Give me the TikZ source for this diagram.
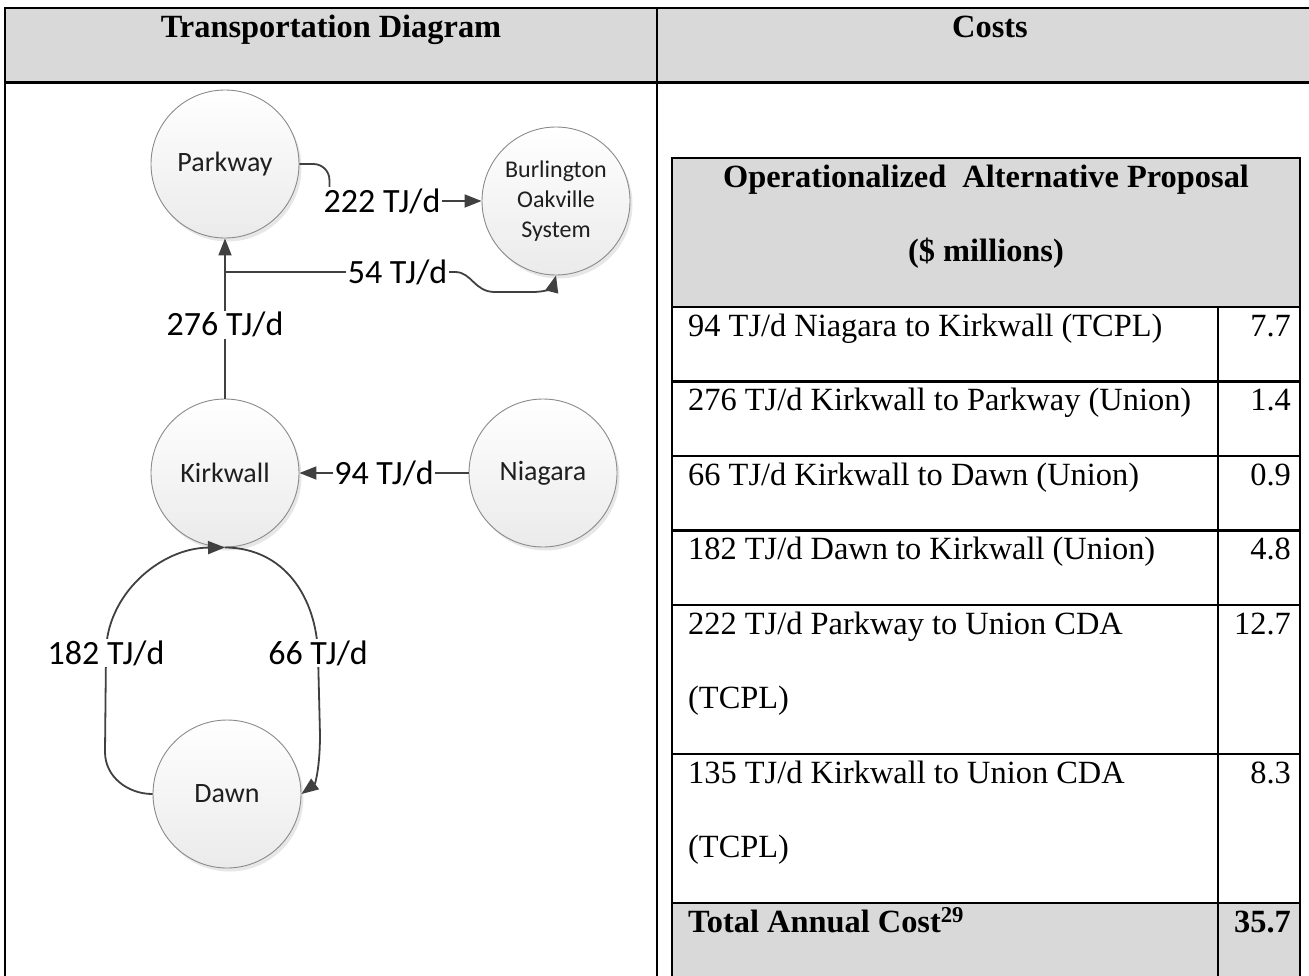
\documentclass[tikz,border=0pt]{standalone}
\usepackage{fontspec}
\setmainfont{Liberation Serif}
\newfontfamily\calibri{Carlito}
\usetikzlibrary{arrows.meta,shadows}
\definecolor{hdrgrey}{HTML}{D9D9D9}
\definecolor{lineclr}{HTML}{404040}
\definecolor{circline}{HTML}{8A8A8A}
\begin{document}
\begin{tikzpicture}[x=1pt,y=-1pt,
  stn/.style={circle, minimum size=148pt, inner sep=0pt, draw=circline, line width=0.9pt,
    top color=white, bottom color=gray!16,
    drop shadow={shadow xshift=2.5pt, shadow yshift=-3.5pt, opacity=0.35, fill=gray!55},
    font=\calibri\fontsize{28}{34}\selectfont, text=black!88},
  flow/.style={draw=lineclr, line width=1.8pt, -{Triangle[length=17pt,width=13pt]}},
  plain/.style={draw=lineclr, line width=1.8pt},
  lbl/.style={fill=white, inner sep=1.5pt, font=\calibri\fontsize{34}{40}\selectfont, text=black},
  tbl/.style={line width=2.6pt, black},
  ttxt/.style={anchor=base west, inner sep=0pt, font=\fontsize{32.4}{38}\selectfont},
  tval/.style={anchor=base east, inner sep=0pt, font=\fontsize{32.4}{38}\selectfont},
  thead/.style={anchor=base, inner sep=0pt, font=\bfseries\fontsize{32.4}{38}\selectfont}]
\useasboundingbox (0,0) rectangle (1309,975);
\clip (0,0) rectangle (1309,975);

% ---------- outer table ----------
\fill[hdrgrey] (5,8) rectangle (1330,82.5);
\draw[tbl] (1330,8) -- (5,8) -- (5,990);
\draw[tbl] (5,82.5) -- (1330,82.5);
\draw[tbl] (657,8) -- (657,990);
\node[thead] (hdiag) at (331,37) {Transportation Diagram};
\node[thead] (hcost) at (990,37) {Costs};

% ---------- inner table ----------
\fill[hdrgrey] (672,158) rectangle (1300,307);
\fill[hdrgrey] (672,903) rectangle (1300,990);
\draw[tbl] (672,990) -- (672,158) -- (1300,158) -- (1300,990);
\foreach \yy in {307,381.5,456,530.5,605,754,903}
  \draw[tbl] (672,\yy) -- (1300,\yy);
\draw[tbl] (1218,307) -- (1218,990);

\node[thead] (ih1) at (986,187) {Operationalized\ \ Alternative Proposal};
\node[thead] (ih2) at (986,261.5) {(\$ millions)};

\node[ttxt] (r1) at (688,336) {94 TJ/d Niagara to Kirkwall (TCPL)};
\node[tval] (v1) at (1291,336) {7.7};
\node[ttxt] (r2) at (688,410.5) {276 TJ/d Kirkwall to Parkway (Union)};
\node[tval] (v2) at (1291,410.5) {1.4};
\node[ttxt] (r3) at (688,485) {66 TJ/d Kirkwall to Dawn (Union)};
\node[tval] (v3) at (1291,485) {0.9};
\node[ttxt] (r4) at (688,559.5) {182 TJ/d Dawn to Kirkwall (Union)};
\node[tval] (v4) at (1291,559.5) {4.8};
\node[ttxt] (r5a) at (688,634) {222 TJ/d Parkway to Union CDA};
\node[ttxt] (r5b) at (688,708.5) {(TCPL)};
\node[tval] (v5) at (1291,634) {12.7};
\node[ttxt] (r6a) at (688,783) {135 TJ/d Kirkwall to Union CDA};
\node[ttxt] (r6b) at (688,857.5) {(TCPL)};
\node[tval] (v6) at (1291,783) {8.3};
\node[ttxt,font=\bfseries\fontsize{32.4}{38}\selectfont] (r7) at (688,932) {Total Annual Cost\textsuperscript{29}};
\node[tval,font=\bfseries\fontsize{32.4}{38}\selectfont] (v7) at (1291,932) {35.7};

% ---------- diagram ----------
\node[stn] (park) at (225,164) {Parkway};
\node[stn, align=center, font=\calibri\fontsize{24}{30}\selectfont] (burl) at (556,201) {Burlington\\Oakville\\System};
\node[stn] (kirk) at (225,473) {Kirkwall};
\node[stn] (niag) at (543,473) {Niagara};
\node[stn] (dawn) at (227,794) {Dawn};

\coordinate (j) at (225,272);

% Kirkwall -> Parkway
\draw[flow] (kirk.north) -- node[lbl, pos=0.46] (l276) {276 TJ/d} (park.south);
% branch to Burlington
\draw[flow] (j) -- (455,272) node[lbl, pos=0.75] (l54) {54 TJ/d}
  .. controls (472,272) and (474,292) .. (495,292) -- (532,292)
  .. controls (548,292) and (553,287) .. (burl.south);
% Parkway -> Burlington
\draw[flow] (park.east) -- ++(14,0) to[out=0,in=90] ++(16,16) |- node[lbl, pos=0.673] (l222) {222 TJ/d} (burl.west);
% Niagara -> Kirkwall
\draw[flow] (niag.west) -- node[lbl] (l94) {94 TJ/d} (kirk.east);
% Dawn -> Kirkwall (left loop)
\draw[flow] (dawn.west) to[out=180,in=-90] (105,752) -- (106,653) node[lbl] (l182) {182 TJ/d}
  .. controls (106,595) and (160,548) .. (kirk.south);
% Kirkwall -> Dawn (right loop)
\draw[flow] (kirk.south) .. controls (285,548) and (316,598) .. (318,653) node[lbl] (l66) {66 TJ/d}
  -- (320,735) .. controls (320,768) and (315,784) .. (dawn.east);
\end{tikzpicture}
\end{document}
